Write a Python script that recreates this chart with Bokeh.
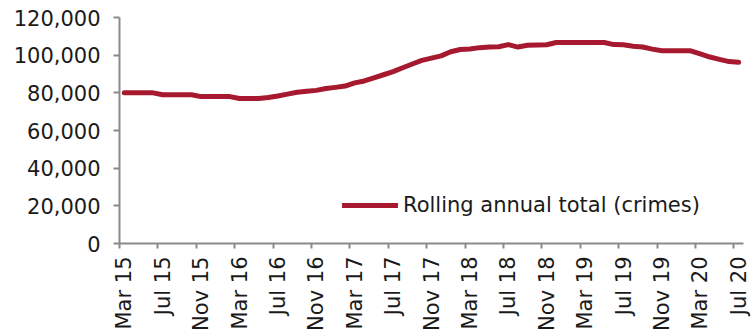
from math import pi
from bokeh.plotting import figure
from bokeh.models import Range1d, LinearAxis, FixedTicker, NumeralTickFormatter, Legend, LegendItem, ColumnDataSource
from bokeh.embed import file_html
from bokeh.resources import INLINE

# Monthly rolling annual totals, Mar 2015 .. Jul 2020 (65 months)
month_index = list(range(65))
rolling_total = [
    80000, 80000, 80000, 80000,            # Mar-Jun 15
    79000, 79000, 79000, 79000,            # Jul-Oct 15
    78000, 78000, 78000, 78000,            # Nov 15-Feb 16
    77000, 77000, 77000, 77500,            # Mar-Jun 16
    78300, 79300, 80300, 80800,            # Jul-Oct 16
    81300, 82300, 82900, 83600,            # Nov 16-Feb 17
    85300, 86300, 88000, 89600,            # Mar-Jun 17
    91300, 93300, 95300, 97200,            # Jul-Oct 17
    98400, 99600, 101800, 103000,          # Nov 17-Feb 18
    103300, 104000, 104300, 104500,        # Mar-Jun 18
    105600, 104300, 105300, 105400,        # Jul-Oct 18
    105500, 106700, 106700, 106700,        # Nov 18-Feb 19
    106700, 106700, 106700, 105600,        # Mar-Jun 19
    105500, 104700, 104300, 103200,        # Jul-Oct 19
    102300, 102300, 102300, 102300,        # Nov 19-Feb 20
    100700, 99000, 97800, 96600,           # Mar-Jun 20
    96200,                                 # Jul 20
]
tick_labels = ["Mar 15", "Jul 15", "Nov 15", "Mar 16", "Jul 16", "Nov 16",
               "Mar 17", "Jul 17", "Nov 17", "Mar 18", "Jul 18", "Nov 18",
               "Mar 19", "Jul 19", "Nov 19", "Mar 20", "Jul 20"]
y_ticks = [0, 20000, 40000, 60000, 80000, 100000, 120000]
series_name = "Rolling annual total (crimes)"

LINE_COLOR = "#A6192E"
AXIS_COLOR = "#8a8a8a"
TEXT_COLOR = "#1a1a1a"
FONT = "DejaVu Sans"
FS = "21px"

n = len(month_index)
label_pos = [month_index[i] for i in range(0, n, 4)]
boundary_pos = [p_ - 0.5 for p_ in label_pos]

p = figure(width=751, height=335, output_backend="svg", toolbar_location=None,
           x_range=Range1d(-0.5, n - 0.5), y_range=Range1d(y_ticks[0], y_ticks[-1]),
           x_axis_location=None,
           min_border_left=119, min_border_top=17, min_border_right=8, min_border_bottom=92)
p.outline_line_color = None
p.xgrid.visible = False
p.ygrid.visible = False
p.background_fill_color = "white"
p.border_fill_color = "white"

src = ColumnDataSource(dict(x=month_index, y=rolling_total))
r = p.line("x", "y", source=src, line_width=5, line_color=LINE_COLOR,
           line_cap="round", line_join="round")

# y axis
ya = p.yaxis[0]
ya.ticker = FixedTicker(ticks=y_ticks)
ya.formatter = NumeralTickFormatter(format="0,0")
ya.axis_line_color = AXIS_COLOR
ya.axis_line_width = 2
ya.major_tick_line_color = AXIS_COLOR
ya.major_tick_line_width = 2
ya.major_tick_out = 6
ya.major_tick_in = 0
ya.minor_tick_line_color = None
ya.major_label_standoff = 13
ya.major_label_text_font = FONT
ya.major_label_text_font_size = FS
ya.major_label_text_color = TEXT_COLOR

# x axis: tick marks at category boundaries
xa1 = LinearAxis(ticker=FixedTicker(ticks=boundary_pos),
                 major_label_overrides={b: "" for b in boundary_pos},
                 major_label_text_font_size="1px", major_label_standoff=0,
                 axis_line_color=AXIS_COLOR, axis_line_width=2,
                 major_tick_line_color=AXIS_COLOR, major_tick_line_width=2,
                 major_tick_out=5, major_tick_in=0, minor_tick_line_color=None)
p.add_layout(xa1, "below")

# x axis: labels at category centres
xa2 = LinearAxis(ticker=FixedTicker(ticks=label_pos),
                 major_label_overrides={lp: lab for lp, lab in zip(label_pos, tick_labels)},
                 major_label_orientation=pi / 2, major_label_standoff=8,
                 major_label_text_font=FONT, major_label_text_font_size=FS,
                 major_label_text_color=TEXT_COLOR,
                 axis_line_color=None, major_tick_line_color=None,
                 minor_tick_line_color=None, major_tick_out=0, major_tick_in=0)
p.add_layout(xa2, "below")

legend = Legend(items=[LegendItem(label=series_name, renderers=[r])],
                location=(223, 26), padding=0, margin=0, spacing=0,
                glyph_width=56, glyph_height=20, label_height=20, label_standoff=5,
                label_text_font=FONT, label_text_font_size=FS, label_text_color=TEXT_COLOR,
                border_line_color=None, background_fill_alpha=0)
p.add_layout(legend)

open("out.html", "w").write(file_html(p, INLINE))
